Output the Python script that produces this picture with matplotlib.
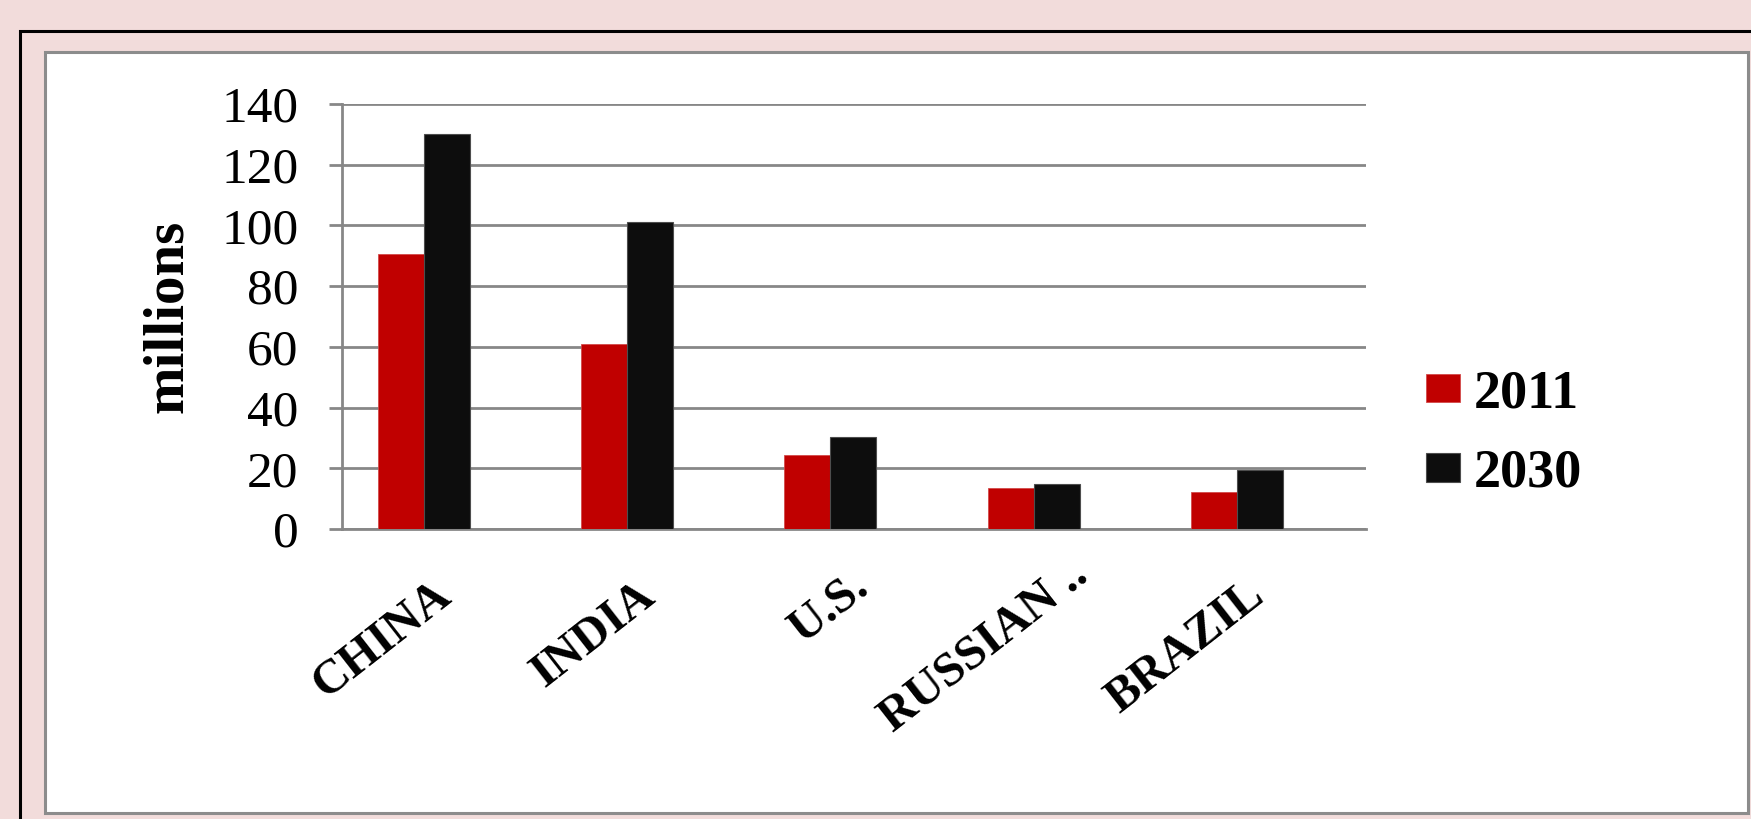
import numpy as np
import matplotlib
matplotlib.use("Agg")
import matplotlib.pyplot as plt
import matplotlib.transforms as mtransforms
from matplotlib.patches import Rectangle

plt.rcParams['font.family'] = ['Liberation Serif', 'DejaVu Serif']

# data (millions)
countries = ["CHINA", "INDIA", "U.S.", "RUSSIAN ..", "BRAZIL"]
vals_2011 = [90.6, 61, 24.4, 13.6, 12.3]
vals_2030 = [130, 101, 30.2, 14.7, 19.4]
series_names = ["2011", "2030"]
yticks = [0, 20, 40, 60, 80, 100, 120, 140]

W, H = 1751, 819
fig = plt.figure(figsize=(W / 100, H / 100), dpi=100)
fig.patch.set_facecolor('#F2DCDB')

# frame: black outer line, gray inner border around white chart area
fig.patches.append(Rectangle((20 / W, -0.1), 1.2, (H - 31) / H + 0.1, transform=fig.transFigure,
                             fill=False, edgecolor='black', linewidth=2.2, zorder=-2))
fig.patches.append(Rectangle((45 / W, 1 - 813 / H), (1748 - 45) / W, (813 - 52) / H,
                             transform=fig.transFigure, facecolor='white',
                             edgecolor='#8C8C8C', linewidth=2.2, zorder=-1))

ax = fig.add_axes([342 / W, 1 - 529 / H, 1024 / W, 425 / H])
ax.set_zorder(2)
ax.set_facecolor('none')

x = np.arange(len(countries))
w = 0.2263
b1 = ax.bar(x - w / 2, vals_2011, w, color='#C00000', edgecolor='#D24A4A', linewidth=0.6,
            label=series_names[0], zorder=3)
b2 = ax.bar(x + w / 2, vals_2030, w, color='#0D0D0D', edgecolor='#4D4D4D', linewidth=0.8,
            label=series_names[1], zorder=3)

ax.set_xlim(-0.4034, 4.6347)
ax.set_ylim(0, 140)
ax.set_yticks(yticks)
ax.yaxis.grid(True, color='#878787', linewidth=2.0, zorder=1)
ax.set_axisbelow(True)
for s in ['top', 'right']:
    ax.spines[s].set_visible(False)
ax.spines['left'].set_color('#878787')
ax.spines['left'].set_linewidth(2.0)
ax.spines['bottom'].set_color('#878787')
ax.spines['bottom'].set_linewidth(2.0)

ax.tick_params(axis='y', length=9.4, width=2.0, color='#878787', pad=22, labelsize=37)
ax.set_xticks(x)
ax.set_xticklabels(countries, rotation=38, ha='right', va='center', rotation_mode='anchor',
                   fontsize=35, fontweight='bold')
ax.tick_params(axis='x', length=0, pad=44)
# nudge labels right; the short / truncated ones sit a bit further along their slant
extra = [0, 0, 14, 34, 0]
ang = np.deg2rad(38)
for lab, e in zip(ax.get_xticklabels(), extra):
    dx = (22 + e * np.cos(ang)) / 100
    dy = (e * np.sin(ang)) / 100
    lab.set_transform(lab.get_transform() + mtransforms.ScaledTranslation(dx, dy, fig.dpi_scale_trans))

ax.set_ylabel('millions', fontsize=41, fontweight='bold', va='center')
ax.yaxis.set_label_coords(-0.1704, 0.5)

leg = fig.legend(handles=[b1, b2], loc='center left', bbox_to_anchor=(1426 / W, 1 - 434 / H),
                 frameon=False, prop={'size': 39, 'weight': 'bold'}, borderpad=0,
                 borderaxespad=0, handlelength=0.63, handleheight=0.43, handletextpad=0.25,
                 labelspacing=0.55)

fig.savefig('out.png', dpi=100, facecolor=fig.get_facecolor())
